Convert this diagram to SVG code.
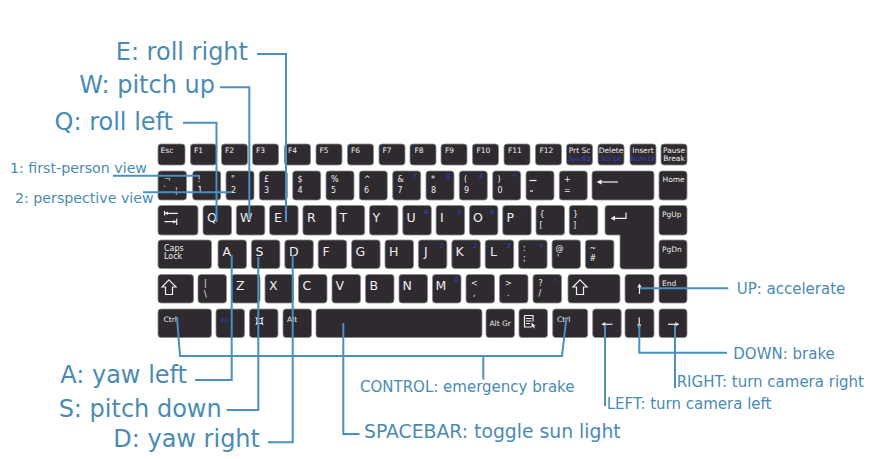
<svg xmlns="http://www.w3.org/2000/svg" width="877" height="459" viewBox="0 0 877 459">
<style>
.k{fill:#2e2a2f;stroke:#8a8a8a;stroke-width:0.8}
.s{font-family:"DejaVu Sans",Verdana,sans-serif;font-size:7.5px;fill:#eeeeee}
.m{font-family:"DejaVu Sans",Verdana,sans-serif;font-size:8px;fill:#eeeeee}
.L{font-family:"DejaVu Sans",Verdana,sans-serif;font-size:12.5px;fill:#eeeeee}
.b{font-family:"DejaVu Sans",Verdana,sans-serif;font-size:6.5px;font-style:italic;fill:#2f45d6}
.g{fill:none;stroke:#eeeeee;stroke-width:1.2}
.w{fill:#eeeeee}
.c{fill:none;stroke:#4a8fbd;stroke-width:2}
.t{font-family:"DejaVu Sans",Verdana,sans-serif;fill:#4b8bb3}
.big{font-size:24px}
.med{font-size:15px}
.sm{font-size:14.2px}
</style>
<rect width="877" height="459" fill="#ffffff"/>
<g id="keyboard">
<!-- Row 1 -->
<g id="k-esc"><rect class="k" x="158" y="144" width="27" height="21" rx="3"/><text class="s" x="160.5" y="153">Esc</text></g>
<g id="k-f1"><rect class="k" x="190.5" y="144" width="26" height="21" rx="3"/><text class="s" x="194" y="153">F1</text></g>
<g id="k-f2"><rect class="k" x="221.5" y="144" width="26" height="21" rx="3"/><text class="s" x="225" y="153">F2</text></g>
<g id="k-f3"><rect class="k" x="252.5" y="144" width="26" height="21" rx="3"/><text class="s" x="256" y="153">F3</text></g>
<g id="k-f4"><rect class="k" x="284.5" y="144" width="26" height="21" rx="3"/><text class="s" x="288" y="153">F4</text></g>
<g id="k-f5"><rect class="k" x="316" y="144" width="26" height="21" rx="3"/><text class="s" x="319.5" y="153">F5</text></g>
<g id="k-f6"><rect class="k" x="347.5" y="144" width="26" height="21" rx="3"/><text class="s" x="351" y="153">F6</text></g>
<g id="k-f7"><rect class="k" x="379" y="144" width="26" height="21" rx="3"/><text class="s" x="382.5" y="153">F7</text></g>
<g id="k-f8"><rect class="k" x="410" y="144" width="26" height="21" rx="3"/><text class="s" x="414.5" y="153">F8</text></g>
<g id="k-f9"><rect class="k" x="441" y="144" width="26" height="21" rx="3"/><text class="s" x="445" y="153">F9</text></g>
<g id="k-f10"><rect class="k" x="472.5" y="144" width="26" height="21" rx="3"/><text class="s" x="476.5" y="153">F10</text></g>
<g id="k-f11"><rect class="k" x="504" y="144" width="26" height="21" rx="3"/><text class="s" x="508" y="153">F11</text></g>
<g id="k-f12"><rect class="k" x="535.5" y="144" width="26" height="21" rx="3"/><text class="s" x="539.5" y="153">F12</text></g>
<g id="k-prtsc"><rect class="k" x="566.5" y="144" width="26" height="21" rx="3"/><text class="s" x="579.5" y="153" text-anchor="middle" font-size="6.5">Prt Sc</text><text class="b" x="579.5" y="161" text-anchor="middle">Sys Rq</text></g>
<g id="k-delete"><rect class="k" x="598" y="144" width="26" height="21" rx="3"/><text class="s" x="611" y="153" text-anchor="middle" font-size="6.5">Delete</text><text class="b" x="611" y="161" text-anchor="middle">Scr Lk</text></g>
<g id="k-insert"><rect class="k" x="630" y="144" width="26" height="21" rx="3"/><text class="s" x="643" y="153" text-anchor="middle" font-size="6.5">Insert</text><text class="b" x="643" y="161" text-anchor="middle">Num Lk</text></g>
<g id="k-pause"><rect class="k" x="661" y="144" width="26" height="21" rx="3"/><text class="s" x="674" y="153" text-anchor="middle" font-size="7">Pause</text><text class="s" x="674" y="161" text-anchor="middle" font-size="7">Break</text></g>
<!-- Row 2 -->
<g id="k-backtick"><rect class="k" x="158" y="171" width="28.5" height="29" rx="3"/><text class="m" x="164" y="182">¬</text><text class="m" x="163" y="193">`</text><text class="m" x="175" y="193">¦</text></g>
<g id="k-1"><rect class="k" x="192.7" y="171" width="28" height="29" rx="3"/><text class="m" x="197.5" y="182">!</text><text class="m" x="197.5" y="192.5">1</text></g>
<g id="k-2"><rect class="k" x="226" y="171" width="28" height="29" rx="3"/><text class="m" x="231" y="182">"</text><text class="m" x="231" y="192.5">2</text></g>
<g id="k-3"><rect class="k" x="259.3" y="171" width="28" height="29" rx="3"/><text class="m" x="264" y="182">£</text><text class="m" x="264" y="192.5">3</text></g>
<g id="k-4"><rect class="k" x="292.7" y="171" width="28" height="29" rx="3"/><text class="m" x="297.5" y="182">$</text><text class="m" x="297.5" y="192.5">4</text></g>
<g id="k-5"><rect class="k" x="326" y="171" width="28" height="29" rx="3"/><text class="m" x="331" y="182">%</text><text class="m" x="331" y="192.5">5</text></g>
<g id="k-6"><rect class="k" x="359.3" y="171" width="28" height="29" rx="3"/><text class="m" x="364" y="182">^</text><text class="m" x="364" y="192.5">6</text></g>
<g id="k-7"><rect class="k" x="392.7" y="171" width="28" height="29" rx="3"/><text class="m" x="397.5" y="182">&amp;</text><text class="m" x="397.5" y="192.5">7</text><text class="b" x="412.5" y="179">7</text></g>
<g id="k-8"><rect class="k" x="426" y="171" width="28" height="29" rx="3"/><text class="m" x="431" y="182">*</text><text class="m" x="431" y="192.5">8</text><text class="b" x="446" y="179">8</text></g>
<g id="k-9"><rect class="k" x="459.3" y="171" width="28" height="29" rx="3"/><text class="m" x="464" y="182">(</text><text class="m" x="464" y="192.5">9</text><text class="b" x="479" y="179">9</text></g>
<g id="k-0"><rect class="k" x="492.7" y="171" width="28" height="29" rx="3"/><text class="m" x="497.5" y="182">)</text><text class="m" x="497.5" y="192.5">0</text><text class="b" x="512.5" y="179">*</text></g>
<g id="k-minus"><rect class="k" x="526" y="171" width="28" height="29" rx="3"/><path class="g" d="M529.5,180.5 H536.5"/><path class="g" d="M530,191 H533"/></g>
<g id="k-equals"><rect class="k" x="559.3" y="171" width="28" height="29" rx="3"/><text class="m" x="564" y="182">+</text><text class="m" x="564" y="192.5">=</text></g>
<g id="k-backspace"><rect class="k" x="592" y="171" width="62" height="29" rx="3"/><path class="g" d="M599,182 H618"/><path class="w" d="M596.5,182 L601.5,179.5 L601.5,184.5 Z"/></g>
<g id="k-home"><rect class="k" x="659" y="171" width="28" height="29" rx="3"/><text class="s" x="662.5" y="182">Home</text></g>
<!-- Row 3 -->
<g id="k-tab"><rect class="k" x="158" y="205.5" width="40" height="29.5" rx="3"/><path class="g" d="M164.5,211 V215.5 M165,213.3 H178 M164.5,221.7 H176 M176.7,218.5 V225"/><path class="w" d="M164.8,213.3 L168,211.5 L168,215.1 Z M176.5,221.7 L173.3,219.9 L173.3,223.5 Z"/></g>
<g id="k-q"><rect class="k" x="203" y="205.5" width="28.5" height="29.5" rx="3"/><text class="L" x="207" y="221.5">Q</text></g>
<g id="k-w"><rect class="k" x="236.3" y="205.5" width="28.5" height="29.5" rx="3"/><text class="L" x="240" y="221.5">W</text></g>
<g id="k-e"><rect class="k" x="269.6" y="205.5" width="28.5" height="29.5" rx="3"/><text class="L" x="274" y="221.5">E</text></g>
<g id="k-r"><rect class="k" x="302.9" y="205.5" width="28.5" height="29.5" rx="3"/><text class="L" x="307" y="221.5">R</text></g>
<g id="k-t"><rect class="k" x="336.2" y="205.5" width="28.5" height="29.5" rx="3"/><text class="L" x="339.5" y="221.5">T</text></g>
<g id="k-y"><rect class="k" x="369.5" y="205.5" width="28.5" height="29.5" rx="3"/><text class="L" x="372.5" y="221.5">Y</text></g>
<g id="k-u"><rect class="k" x="402.8" y="205.5" width="28.5" height="29.5" rx="3"/><text class="L" x="406.5" y="221.5">U</text><text class="b" x="424" y="214">4</text></g>
<g id="k-i"><rect class="k" x="436.1" y="205.5" width="28.5" height="29.5" rx="3"/><text class="L" x="440" y="221.5">I</text><text class="b" x="457.5" y="214">5</text></g>
<g id="k-o"><rect class="k" x="469.4" y="205.5" width="28.5" height="29.5" rx="3"/><text class="L" x="473" y="221.5">O</text><text class="b" x="490.5" y="214">6</text></g>
<g id="k-p"><rect class="k" x="502.7" y="205.5" width="28.5" height="29.5" rx="3"/><text class="L" x="506.5" y="221.5">P</text><text class="b" x="524" y="213">-</text></g>
<g id="k-lbrace"><rect class="k" x="536" y="205.5" width="28.5" height="29.5" rx="3"/><text class="m" x="539.5" y="217">{</text><text class="m" x="539.5" y="227.5">[</text></g>
<g id="k-rbrace"><rect class="k" x="569.3" y="205.5" width="28.5" height="29.5" rx="3"/><text class="m" x="573" y="217">}</text><text class="m" x="573" y="227.5">]</text></g>
<g id="k-enter"><path class="k" d="M608,205.5 H651 Q654,205.5 654,208.5 V266 Q654,269 651,269 H623 Q620,269 620,266 V235 H608 Q605,235 605,232 V208.5 Q605,205.5 608,205.5 Z"/><path class="g" d="M613,218.3 H626 V212.5"/><path class="w" d="M610.5,218.3 L615,215.8 L615,220.8 Z"/></g>
<g id="k-pgup"><rect class="k" x="659" y="205.5" width="28" height="29.5" rx="3"/><text class="s" x="662" y="217">PgUp</text></g>
<!-- Row 4 -->
<g id="k-caps"><rect class="k" x="158" y="240" width="53.5" height="28.5" rx="3"/><text class="m" x="164" y="251">Caps</text><text class="m" x="164" y="259">Lock</text></g>
<g id="k-a"><rect class="k" x="218" y="240" width="28.5" height="28.5" rx="3"/><text class="L" x="222.5" y="255.5">A</text></g>
<g id="k-s"><rect class="k" x="251.4" y="240" width="28.5" height="28.5" rx="3"/><text class="L" x="255.5" y="255.5">S</text></g>
<g id="k-d"><rect class="k" x="284.8" y="240" width="28.5" height="28.5" rx="3"/><text class="L" x="289" y="255.5">D</text></g>
<g id="k-f"><rect class="k" x="318.2" y="240" width="28.5" height="28.5" rx="3"/><text class="L" x="322.5" y="255.5">F</text></g>
<g id="k-g"><rect class="k" x="351.6" y="240" width="28.5" height="28.5" rx="3"/><text class="L" x="355.5" y="255.5">G</text></g>
<g id="k-h"><rect class="k" x="385" y="240" width="28.5" height="28.5" rx="3"/><text class="L" x="389" y="255.5">H</text></g>
<g id="k-j"><rect class="k" x="418.4" y="240" width="28.5" height="28.5" rx="3"/><text class="L" x="424" y="255.5">J</text><text class="b" x="439.5" y="248">1</text></g>
<g id="k-k"><rect class="k" x="451.8" y="240" width="28.5" height="28.5" rx="3"/><text class="L" x="455.5" y="255.5">K</text><text class="b" x="473" y="248">2</text></g>
<g id="k-l"><rect class="k" x="485.2" y="240" width="28.5" height="28.5" rx="3"/><text class="L" x="490" y="255.5">L</text><text class="b" x="506.5" y="248">3</text></g>
<g id="k-semicolon"><rect class="k" x="518.6" y="240" width="28.5" height="28.5" rx="3"/><text class="m" x="523" y="250.5">:</text><text class="m" x="523" y="261">;</text><text class="b" x="538.5" y="248">+</text></g>
<g id="k-quote"><rect class="k" x="552" y="240" width="28.5" height="28.5" rx="3"/><text class="m" x="555.5" y="250.5">@</text><text class="m" x="557" y="261">'</text></g>
<g id="k-hash"><rect class="k" x="585.4" y="240" width="28.5" height="28.5" rx="3"/><text class="m" x="589.5" y="250.5">~</text><text class="m" x="589.5" y="261">#</text></g>
<g id="k-pgdn"><rect class="k" x="659" y="240" width="28" height="28.5" rx="3"/><text class="s" x="662" y="252">PgDn</text></g>
<!-- Row 5 -->
<g id="k-lshift"><rect class="k" x="158" y="274.5" width="35.5" height="28.5" rx="3"/><path class="g" d="M169,279.8 L176,287 L172.5,287 L172.5,294.5 L165.5,294.5 L165.5,287 L162,287 Z"/></g>
<g id="k-backslash"><rect class="k" x="198" y="274.5" width="28.5" height="28.5" rx="3"/><text class="m" x="204" y="286">|</text><text class="m" x="204" y="297">\</text></g>
<g id="k-z"><rect class="k" x="231.5" y="274.5" width="28.5" height="28.5" rx="3"/><text class="L" x="236" y="290">Z</text></g>
<g id="k-x"><rect class="k" x="265" y="274.5" width="28.5" height="28.5" rx="3"/><text class="L" x="269" y="290">X</text></g>
<g id="k-c"><rect class="k" x="298.5" y="274.5" width="28.5" height="28.5" rx="3"/><text class="L" x="302.5" y="290">C</text></g>
<g id="k-v"><rect class="k" x="332" y="274.5" width="28.5" height="28.5" rx="3"/><text class="L" x="335.5" y="290">V</text></g>
<g id="k-b"><rect class="k" x="365.5" y="274.5" width="28.5" height="28.5" rx="3"/><text class="L" x="369.5" y="290">B</text></g>
<g id="k-n"><rect class="k" x="399" y="274.5" width="28.5" height="28.5" rx="3"/><text class="L" x="402.5" y="290">N</text></g>
<g id="k-m"><rect class="k" x="432.5" y="274.5" width="28.5" height="28.5" rx="3"/><text class="L" x="435.5" y="290">M</text><text class="b" x="454" y="282">0</text></g>
<g id="k-comma"><rect class="k" x="466" y="274.5" width="28.5" height="28.5" rx="3"/><text class="m" x="471" y="285.5">&lt;</text><text class="m" x="473" y="296">,</text></g>
<g id="k-period"><rect class="k" x="499.5" y="274.5" width="28.5" height="28.5" rx="3"/><text class="m" x="505" y="285.5">&gt;</text><text class="m" x="507" y="296">.</text></g>
<g id="k-slash"><rect class="k" x="533" y="274.5" width="28.5" height="28.5" rx="3"/><text class="m" x="538.5" y="285.5">?</text><text class="m" x="538.5" y="296">/</text><text class="b" x="554" y="282">/</text></g>
<g id="k-rshift"><rect class="k" x="568" y="274.5" width="52" height="28.5" rx="3"/><path class="g" d="M580,279.8 L587,287 L583.5,287 L583.5,294.5 L576.5,294.5 L576.5,287 L573,287 Z"/></g>
<g id="k-up"><rect class="k" x="625" y="274.5" width="29" height="28.5" rx="3"/><path class="g" d="M639.5,286 V294"/><path class="w" d="M639.5,283.5 L637.3,287.5 L641.7,287.5 Z"/></g>
<g id="k-end"><rect class="k" x="659" y="274.5" width="28" height="28.5" rx="3"/><text class="s" x="662" y="286" font-size="7">End</text></g>
<!-- Row 6 -->
<g id="k-lctrl"><rect class="k" x="158" y="309" width="53.5" height="28.5" rx="3"/><text class="s" x="163.5" y="322">Ctrl</text></g>
<g id="k-fn"><rect class="k" x="216" y="309" width="28.5" height="28.5" rx="3"/><text class="b" x="220.5" y="322.5" font-size="7.5">Fn</text></g>
<g id="k-win"><rect class="k" x="249.5" y="309" width="28.5" height="28.5" rx="3"/><path class="g" d="M256.5,318 Q259.5,319.5 262.5,318 Q261,321 262.5,324 Q259.5,322.5 256.5,324 Q258,321 256.5,318 Z" stroke-width="1"/></g>
<g id="k-alt"><rect class="k" x="283" y="309" width="28.5" height="28.5" rx="3"/><text class="s" x="287" y="322">Alt</text></g>
<g id="k-space"><rect class="k" x="316" y="309" width="166" height="28.5" rx="3"/></g>
<g id="k-altgr"><rect class="k" x="486" y="309" width="28.5" height="28.5" rx="3"/><text class="s" x="500.2" y="326" text-anchor="middle">Alt Gr</text></g>
<g id="k-menu"><rect class="k" x="519" y="309" width="28.5" height="28.5" rx="3"/><path class="g" d="M524.5,315.5 H533 V321.5 M531,327 H524.5 V315.5 M526,318.5 H531.5 M526,321 H531.5 M526,323.5 H530" stroke-width="1"/><path class="w" d="M531.5,322.5 L531.5,328 L533,326.6 L534.2,328.5 L535,328 L533.9,326.2 L535.5,326 Z"/></g>
<g id="k-rctrl"><rect class="k" x="552.7" y="309" width="35" height="28.5" rx="3"/><text class="s" x="557" y="321.5">Ctrl</text></g>
<g id="k-left"><rect class="k" x="592.7" y="309" width="28.5" height="28.5" rx="3"/><path class="g" d="M603.5,324.3 H612.5"/><path class="w" d="M601.3,324.3 L605.3,322.1 L605.3,326.5 Z"/></g>
<g id="k-down"><rect class="k" x="625" y="309" width="29" height="28.5" rx="3"/><path class="g" d="M639.2,317.5 V326"/><path class="w" d="M639.2,328.5 L637,324.5 L641.4,324.5 Z"/></g>
<g id="k-right"><rect class="k" x="659" y="309" width="28" height="28.5" rx="3"/><path class="g" d="M668,324.3 H677"/><path class="w" d="M679.3,324.3 L675.3,322.1 L675.3,326.5 Z"/></g>
</g>
<g id="connectors">
<path class="c" d="M257,54 H286 V222"/>
<path class="c" d="M220,87.3 H249.3 V220"/>
<path class="c" d="M183,122.7 H216.5 V222"/>
<path class="c" d="M113,175.7 H200"/>
<path class="c" d="M143,192.3 H232"/>
<path class="c" d="M195,380 H231.7 V255"/>
<path class="c" d="M226.7,410 H258.3 V257"/>
<path class="c" d="M268,442.3 H292.7 V255"/>
<path class="c" d="M177,317 L180,356 H562 L566.5,317"/>
<path class="c" d="M483.3,356 V379.5"/>
<path class="c" d="M343.3,323 V434 H359.5"/>
<path class="c" d="M605,325 V406"/>
<path class="c" d="M675,325 V388"/>
<path class="c" d="M639.3,325 V352.7 H727"/>
<path class="c" d="M640,288.3 H728.3"/>
</g>
<g id="label-e"><text class="t big" x="248" y="60" text-anchor="end">E: roll right</text></g>
<g id="label-w"><text class="t big" x="215" y="93.3" text-anchor="end">W: pitch up</text></g>
<g id="label-q"><text class="t big" x="173" y="130" text-anchor="end">Q: roll left</text></g>
<g id="label-1"><text class="t sm" x="10" y="172.7">1: first-person view</text></g>
<g id="label-2"><text class="t sm" x="15" y="203">2: perspective view</text></g>
<g id="label-a"><text class="t big" x="187" y="383.3" text-anchor="end">A: yaw left</text></g>
<g id="label-s"><text class="t big" x="221.7" y="417.3" text-anchor="end">S: pitch down</text></g>
<g id="label-d"><text class="t big" x="260" y="446.7" text-anchor="end">D: yaw right</text></g>
<g id="label-control"><text class="t med" x="360" y="391.7">CONTROL: emergency brake</text></g>
<g id="label-spacebar"><text class="t" x="364" y="438.3" font-size="18.8">SPACEBAR: toggle sun light</text></g>
<g id="label-left"><text class="t med" x="606.7" y="409">LEFT: turn camera left</text></g>
<g id="label-right"><text class="t med" x="676.7" y="386.7">RIGHT: turn camera right</text></g>
<g id="label-down"><text class="t med" x="733.3" y="359.3">DOWN: brake</text></g>
<g id="label-up"><text class="t med" x="736.7" y="294">UP: accelerate</text></g>
</svg>
